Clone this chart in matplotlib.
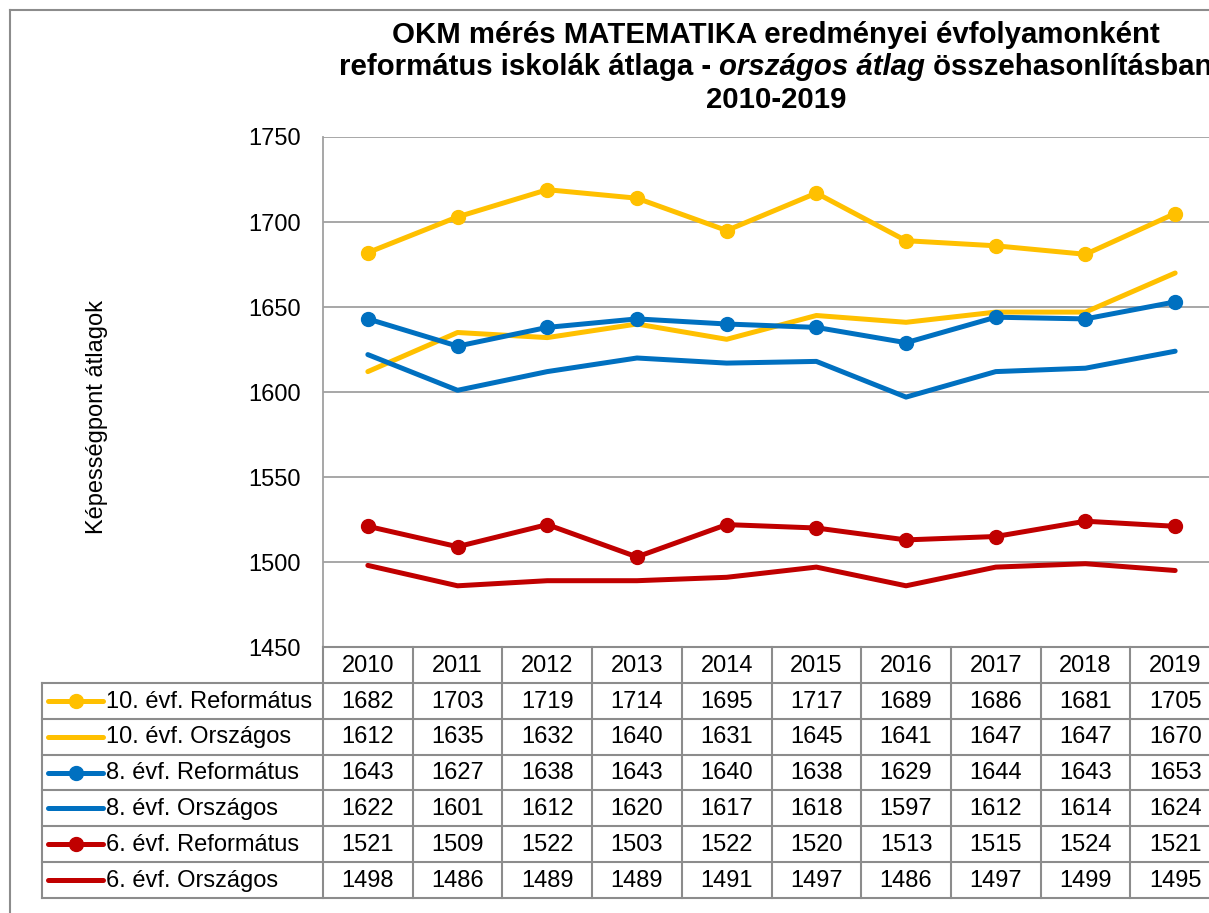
import matplotlib
matplotlib.use("Agg")
import matplotlib.pyplot as plt
from matplotlib.lines import Line2D
import numpy as np

plt.rcParams['font.family'] = ['Liberation Sans', 'DejaVu Sans']

years = ['2010', '2011', '2012', '2013', '2014', '2015', '2016', '2017', '2018', '2019']
ref10 = [1682, 1703, 1719, 1714, 1695, 1717, 1689, 1686, 1681, 1705]
orsz10 = [1612, 1635, 1632, 1640, 1631, 1645, 1641, 1647, 1647, 1670]
ref8 = [1643, 1627, 1638, 1643, 1640, 1638, 1629, 1644, 1643, 1653]
orsz8 = [1622, 1601, 1612, 1620, 1617, 1618, 1597, 1612, 1614, 1624]
ref6 = [1521, 1509, 1522, 1503, 1522, 1520, 1513, 1515, 1524, 1521]
orsz6 = [1498, 1486, 1489, 1489, 1491, 1497, 1486, 1497, 1499, 1495]

labels = ['10. évf. Református', '10. évf. Országos', '8. évf. Református',
          '8. évf. Országos', '6. évf. Református', '6. évf. Országos']
series = [ref10, orsz10, ref8, orsz8, ref6, orsz6]
colors = ['#FFC000', '#FFC000', '#0070C0', '#0070C0', '#C00000', '#C00000']
markers = ['o', None, 'o', None, 'o', None]

W, H = 1209, 913
fig = plt.figure(figsize=(W / 100, H / 100), dpi=100)

# pixel geometry of plot area
px_left, px_right = 323, 1220
px_top, px_bot = 137, 647
tab_left, tab_bot = 42, 898

def fx(px):
    return px / W

def fy(py):
    return 1 - py / H

ax = fig.add_axes([fx(px_left), fy(px_bot), fx(px_right - px_left), (px_bot - px_top) / H])
x = np.arange(len(years))
for s, c, m in zip(series, colors, markers):
    ax.plot(x, s, color=c, lw=3.6, marker=m, markersize=10, solid_capstyle='round', zorder=3)

ax.set_xlim(-0.5, len(years) - 0.5)
ax.set_ylim(1450, 1750)
ax.set_yticks(np.arange(1450, 1751, 50))
ax.set_xticks([])
ax.yaxis.grid(True, color='#a0a0a0', lw=1.3)
ax.set_axisbelow(True)
for sp in ['top', 'right', 'bottom']:
    ax.spines[sp].set_visible(False)
ax.spines['left'].set_color('#a0a0a0')
ax.spines['left'].set_linewidth(1.3)
ax.tick_params(axis='y', length=0, pad=16, labelsize=17)
ax.set_ylabel('Képességpont átlagok', fontsize=17)
ax.yaxis.set_label_coords((97 - px_left) / (px_right - px_left), (px_bot - 417) / (px_bot - px_top))
ax.yaxis.label.set_va('center')

# data table
colw = (px_right - px_left) / len(years)
tax = fig.add_axes([fx(tab_left), fy(tab_bot), fx(px_right - tab_left), (tab_bot - px_bot) / H])
x0 = -0.5 - (px_left - tab_left) / colw
tax.set_xlim(x0, len(years) - 0.5)
tax.set_ylim(7, 0)
tax.axis('off')
gc = '#8c8c8c'
glw = 1.5
fs = 17
# header row
tax.plot([-0.5, len(years) - 0.5], [0, 0], color=gc, lw=glw, clip_on=False)
for i in range(len(years) + 1):
    tax.plot([i - 0.5, i - 0.5], [0, 7], color=gc, lw=glw, clip_on=False)
tax.plot([x0, x0], [1, 7], color=gc, lw=glw, clip_on=False)
for r in range(1, 8):
    tax.plot([x0, len(years) - 0.5], [r, r], color=gc, lw=glw, clip_on=False)
for i, yr in enumerate(years):
    tax.text(i, 0.52, yr, ha='center', va='center', fontsize=fs)
for r, (lab, s, c, m) in enumerate(zip(labels, series, colors, markers), start=1):
    lx = [x0 + 6 / colw, x0 + 61 / colw]
    tax.plot(lx, [r + 0.5, r + 0.5], color=c, lw=3.6, solid_capstyle='round', clip_on=False)
    if m:
        tax.plot([np.mean(lx)], [r + 0.5], color=c, marker=m, markersize=10, clip_on=False)
    tax.text(x0 + 64 / colw, r + 0.52, lab, ha='left', va='center', fontsize=fs)
    for i, v in enumerate(s):
        tax.text(i, r + 0.52, str(v), ha='center', va='center', fontsize=fs)

# outer chart border
fig.add_artist(Line2D([fx(10), fx(10)], [fy(10), 0], color=gc, lw=1.5))
fig.add_artist(Line2D([fx(10), 1], [fy(10), fy(10)], color=gc, lw=1.5))

# title
cx = fx(776)
tsize = 21.2
fig.text(cx, fy(35), 'OKM mérés MATEMATIKA eredményei évfolyamonként', ha='center', va='center',
         fontsize=tsize, fontweight='bold')
fig.text(cx, fy(100), '2010-2019', ha='center', va='center', fontsize=tsize, fontweight='bold')
parts = [('református iskolák átlaga - ', 'normal'), ('országos átlag', 'italic'), (' összehasonlításban', 'normal')]
texts = [fig.text(0, fy(67), p, ha='left', va='center', fontsize=tsize, fontweight='bold', fontstyle=st)
         for p, st in parts]
fig.canvas.draw()
r = fig.canvas.get_renderer()
widths = [t.get_window_extent(r).width for t in texts]
start = cx * W - sum(widths) / 2
for t, w in zip(texts, widths):
    t.set_x(start / W)
    start += w

fig.savefig('out.png', dpi=100)
